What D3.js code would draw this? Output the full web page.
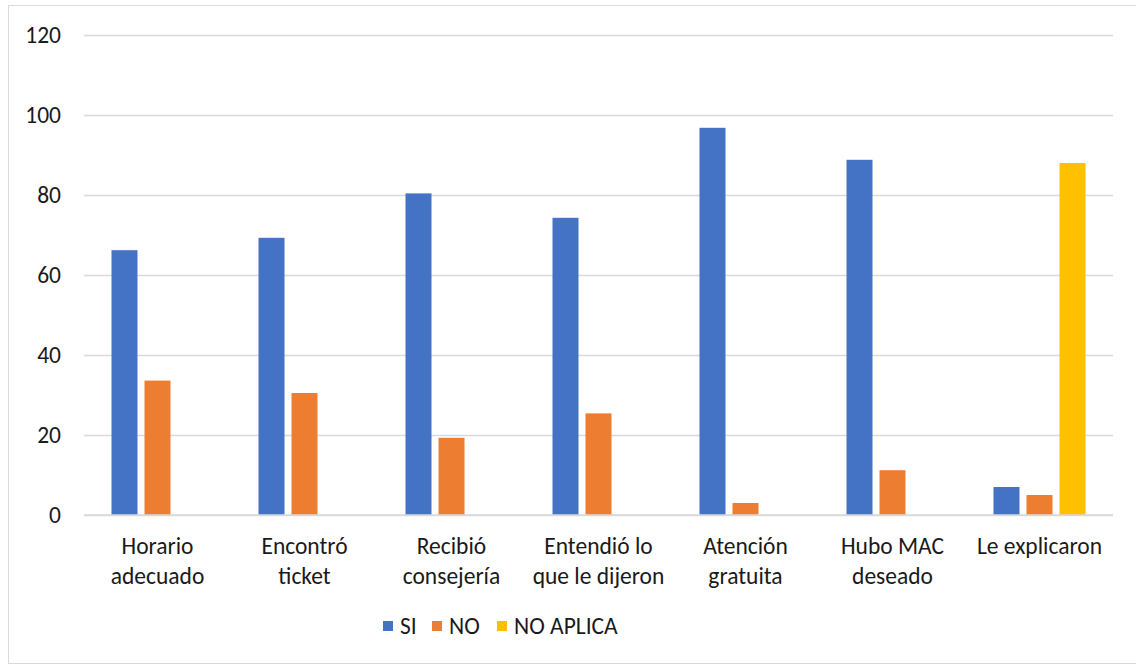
<!DOCTYPE html>
<html>
<head>
<meta charset="utf-8">
<script src="https://cdn.jsdelivr.net/npm/d3@7"></script>
<style>
  html, body { margin: 0; padding: 0; background: #fff; }
  svg text { font-family: Carlito, "Liberation Sans", "Open Sans", sans-serif; fill: #1a1a1a; }
</style>
</head>
<body>
<svg id="chart" width="1136" height="666"></svg>
<script>
// Survey answers per question (percent)
const categories = [
  ["Horario", "adecuado"],
  ["Encontró", "ticket"],
  ["Recibió", "consejería"],
  ["Entendió lo", "que le dijeron"],
  ["Atención", "gratuita"],
  ["Hubo MAC", "deseado"],
  ["Le explicaron"]
];
const seriesNames = ["SI", "NO", "NO APLICA"];
const siValues = [66.2, 69.3, 80.4, 74.3, 96.8, 88.8, 7.0];
const noValues = [33.6, 30.5, 19.3, 25.4, 3.0, 11.2, 5.0];
const naValues = [null, null, null, null, null, null, 88.0];
const seriesColors = ["#4472C4", "#ED7D31", "#FFC000"];
const yTicks = [0, 20, 40, 60, 80, 100, 120];

const series = [siValues, noValues, naValues];
const svg = d3.select("#chart");
const fontSize = 23.5;

// outer frame
svg.append("rect")
  .attr("x", 8.5).attr("y", 5.5)
  .attr("width", 1130).attr("height", 658)
  .attr("fill", "none").attr("stroke", "#d9d9d9").attr("stroke-width", 1);

const plot = { left: 84, right: 1113, top: 35, bottom: 515 };

const y = d3.scaleLinear().domain([0, 120]).range([plot.bottom, plot.top]);
const x0 = d3.scaleBand()
  .domain(d3.range(categories.length))
  .range([plot.left, plot.right])
  .padding(0);
const groupSpan = 92;
const x1 = d3.scaleBand()
  .domain(d3.range(seriesNames.length))
  .range([(x0.bandwidth() - groupSpan) / 2, (x0.bandwidth() + groupSpan) / 2])
  .paddingInner(7 / 33)
  .paddingOuter(0);

// gridlines
const yAxis = d3.axisLeft(y).tickValues(yTicks).tickSize(-(plot.right - plot.left)).tickPadding(23);
const gy = svg.append("g").attr("transform", `translate(${plot.left},0)`).call(yAxis);
gy.select(".domain").remove();
gy.selectAll(".tick line").attr("stroke", "#d9d9d9").attr("stroke-width", 1.5);
gy.selectAll(".tick text").attr("font-size", fontSize).style("fill", "#1a1a1a");

// bars
series.forEach((vals, si) => {
  svg.append("g").selectAll("rect")
    .data(vals.map((v, i) => ({ v, i })).filter(d => d.v != null))
    .join("rect")
    .attr("x", d => x0(d.i) + x1(si))
    .attr("width", x1.bandwidth())
    .attr("y", d => y(d.v))
    .attr("height", d => y(0) - y(d.v))
    .attr("fill", seriesColors[si]);
});

// baseline redrawn above bars
svg.append("line")
  .attr("x1", plot.left).attr("x2", plot.right)
  .attr("y1", y(0)).attr("y2", y(0))
  .attr("stroke", "#d9d9d9").attr("stroke-width", 1.5);

// category labels
const labels = svg.append("g");
categories.forEach((lines, i) => {
  const t = labels.append("text")
    .attr("x", x0(i) + x0.bandwidth() / 2)
    .attr("y", 554)
    .attr("text-anchor", "middle")
    .attr("font-size", fontSize);
  lines.forEach((ln, k) => {
    t.append("tspan")
      .attr("x", x0(i) + x0.bandwidth() / 2)
      .attr("dy", k === 0 ? 0 : 30)
      .text(ln);
  });
});

// legend
const legendItems = [
  { name: seriesNames[0], x: 383 },
  { name: seriesNames[1], x: 432 },
  { name: seriesNames[2], x: 497 }
];
const lg = svg.append("g");
legendItems.forEach((d, i) => {
  lg.append("rect")
    .attr("x", d.x).attr("y", 621)
    .attr("width", 10).attr("height", 10)
    .attr("fill", seriesColors[i]);
  lg.append("text")
    .attr("x", d.x + 17).attr("y", 634)
    .attr("font-size", fontSize)
    .text(d.name);
});
</script>
</body>
</html>
